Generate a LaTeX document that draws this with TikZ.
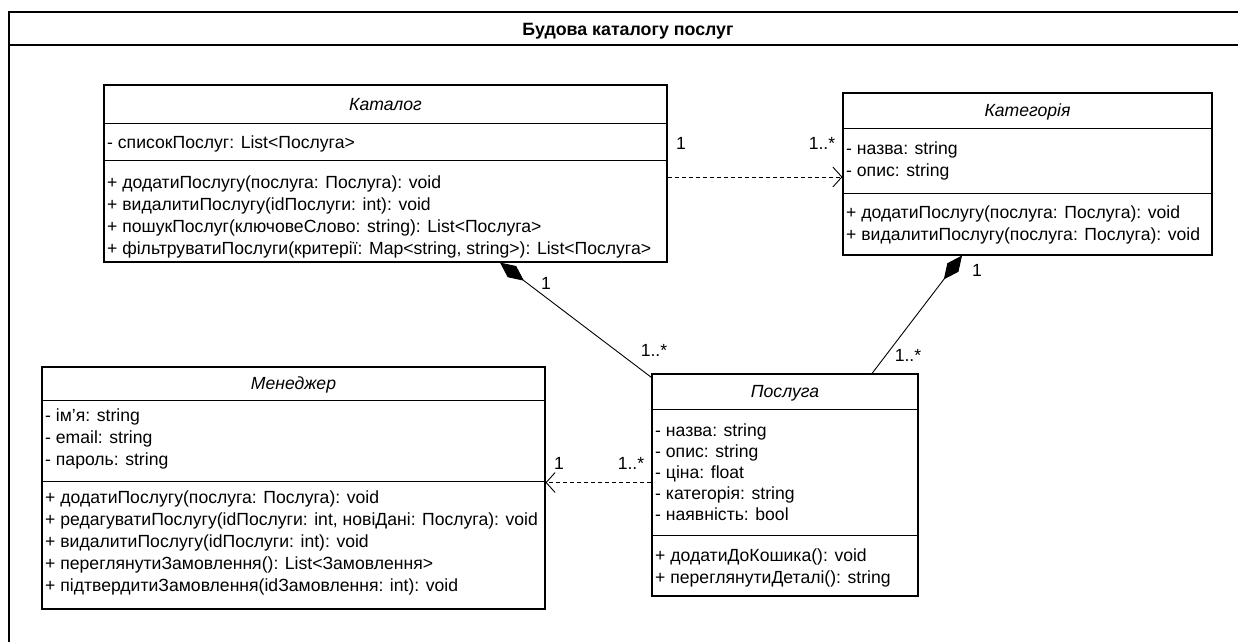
\documentclass[tikz,border=0pt]{standalone}
\usepackage{fontspec}
\setmainfont{Liberation Sans}
\usetikzlibrary{arrows.meta}
\begin{document}
\begin{tikzpicture}[x=1pt,y=-1pt,
  every node/.style={font=\fontsize{17.6}{21}\selectfont, inner sep=0pt},
  classbox/.style={draw, line width=1.1pt},
  divider/.style={line width=0.9pt},
  member/.style={anchor=base west},
  classname/.style={anchor=base, font=\fontsize{17.6}{21}\selectfont\itshape},
  mult/.style={anchor=base},
  dep/.style={line width=0.9pt, dash pattern=on 4pt off 3pt,
    -{Straight Barb[length=9pt,width=20pt,line width=0.9pt]}},
  comp/.style={line width=0.9pt, {Diamond[length=30pt,width=14pt]}-},
]
\useasboundingbox (0,0) rectangle (1238,641);
\clip (0,0) rectangle (1238,641);

% outer frame with its title band
\draw[line width=1.2pt] (9,660) -- (9,12) -- (1250,12);
\draw[line width=1.2pt] (9,45) -- (1250,45);
\node[font=\fontsize{17.8}{21}\selectfont\bfseries, anchor=base] (title) at (628,35) {Будова каталогу послуг};

% class: Каталог
\node[classbox, minimum width=563pt, minimum height=177pt] (katalog) at (385.5,173.5) {};
\draw[divider] (104,123) -- (667,123);
\draw[divider] (104,160) -- (667,160);
\node[classname] (katalogName) at (385.5,110) {Каталог};
\node[member] (katalogA1) at (107,148) {- списокПослуг: List<Послуга>};
\node[member] (katalogM1) at (107,188) {+ додатиПослугу(послуга: Послуга): void};
\node[member] (katalogM2) at (107,210) {+ видалитиПослугу(idПослуги: int): void};
\node[member] (katalogM3) at (107,232) {+ пошукПослуг(ключовеСлово: string): List<Послуга>};
\node[member] (katalogM4) at (107,254) {+ фільтруватиПослуги(критерії: Map<string, string>): List<Послуга>};

% class: Категорія
\node[classbox, minimum width=369pt, minimum height=162pt] (kategoriya) at (1027.5,174) {};
\draw[divider] (843,128) -- (1212,128);
\draw[divider] (843,193) -- (1212,193);
\node[classname] (kategoriyaName) at (1027.5,116) {Категорія};
\node[member] (kategoriyaA1) at (846,154) {- назва: string};
\node[member] (kategoriyaA2) at (846,176) {- опис: string};
\node[member] (kategoriyaM1) at (846,218) {+ додатиПослугу(послуга: Послуга): void};
\node[member] (kategoriyaM2) at (846,240) {+ видалитиПослугу(послуга: Послуга): void};

% class: Менеджер
\node[classbox, minimum width=503pt, minimum height=242pt] (menedzher) at (293.5,488) {};
\draw[divider] (42,400) -- (545,400);
\draw[divider] (42,481) -- (545,481);
\node[classname] (menedzherName) at (293.5,389) {Менеджер};
\node[member] (menedzherA1) at (45,421) {- ім’я: string};
\node[member] (menedzherA2) at (45,443) {- email: string};
\node[member] (menedzherA3) at (45,465) {- пароль: string};
\node[member] (menedzherM1) at (45,503) {+ додатиПослугу(послуга: Послуга): void};
\node[member] (menedzherM2) at (45,525) {+ редагуватиПослугу(idПослуги: int, новіДані: Послуга): void};
\node[member] (menedzherM3) at (45,547) {+ видалитиПослугу(idПослуги: int): void};
\node[member] (menedzherM4) at (45,569) {+ переглянутиЗамовлення(): List<Замовлення>};
\node[member] (menedzherM5) at (45,591) {+ підтвердитиЗамовлення(idЗамовлення: int): void};

% class: Послуга
\node[classbox, minimum width=266pt, minimum height=222pt] (posluga) at (785,485) {};
\draw[divider] (652,409) -- (918,409);
\draw[divider] (652,535) -- (918,535);
\node[classname] (poslugaName) at (785,397) {Послуга};
\node[member] (poslugaA1) at (655,436) {- назва: string};
\node[member] (poslugaA2) at (655,457) {- опис: string};
\node[member] (poslugaA3) at (655,478) {- ціна: float};
\node[member] (poslugaA4) at (655,499) {- категорія: string};
\node[member] (poslugaA5) at (655,520) {- наявність: bool};
\node[member] (poslugaM1) at (655,561) {+ додатиДоКошика(): void};
\node[member] (poslugaM2) at (655,583) {+ переглянутиДеталі(): string};

% dependency: Каталог -> Категорія
\draw[dep] ([yshift=-3.5pt]katalog.east) -- ([yshift=-3.5pt]katalog.east -| kategoriya.west);
\node[mult] (mKatDep1) at (681,149) {1};
\node[mult] (mKatDep2) at (822,149) {1..*};

% composition: Каталог <>-- Послуга
\draw[comp] ([xshift=114.5pt]katalog.south) -- ([yshift=-4pt]posluga.north west);
\node[mult] (mKatComp1) at (546,289) {1};
\node[mult] (mKatComp2) at (654,356) {1..*};

% composition: Категорія <>-- Послуга
\draw[comp] ([xshift=-65.5pt]kategoriya.south) -- ([xshift=87pt]posluga.north);
\node[mult] (mKatgComp1) at (977,276) {1};
\node[mult] (mKatgComp2) at (908,361) {1..*};

% dependency: Послуга -> Менеджер
\draw[dep] ([yshift=2.5pt]posluga.west) -- ([yshift=2.5pt]posluga.west -| menedzher.east);
\node[mult] (mManDep1) at (559,469) {1};
\node[mult] (mManDep2) at (631,469) {1..*};
\end{tikzpicture}
\end{document}
